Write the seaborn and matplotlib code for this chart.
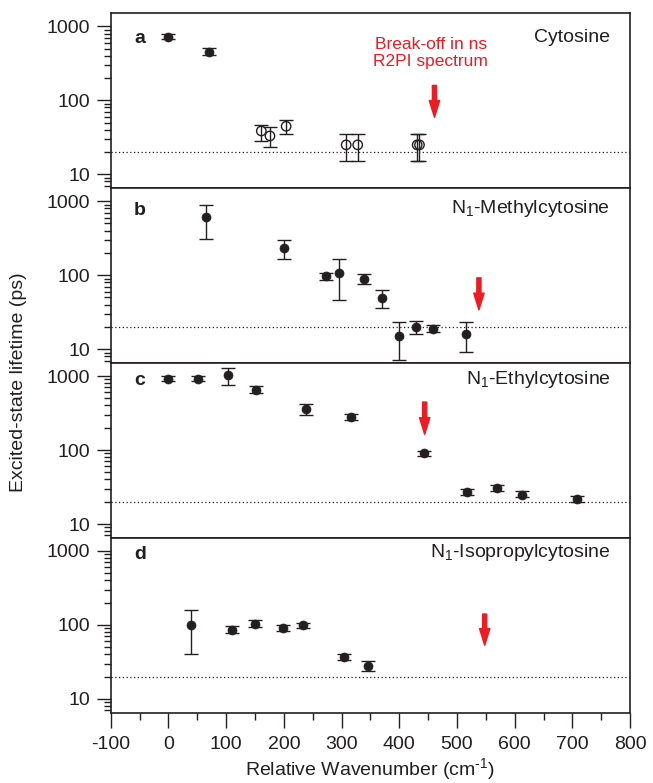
import matplotlib
matplotlib.use('Agg')
import matplotlib.pyplot as plt
import seaborn as sns
import pandas as pd
from matplotlib.ticker import LogLocator, MultipleLocator, NullFormatter, FixedLocator

# panel a: cytosine (open = measured in other experiment)
cyt_x = [0, 71, 161, 176, 204, 308, 328, 431, 435]
cyt_y = [727, 452, 38.5, 33, 44.6, 25, 25, 25, 25]
cyt_lo = [668, 407, 28, 23.3, 35, 15.2, 15.2, 15.2, 15.2]
cyt_hi = [790, 505, 47, 43.5, 55, 35, 35, 35, 35]
cyt_open = [False, False, True, True, True, True, True, True, True]

# panel b: N1-methylcytosine
met_x = [66, 200, 273, 296, 339, 370, 400, 429, 459, 515]
met_y = [602, 234, 96, 106, 90, 49, 15, 20, 19, 16]
met_lo = [313, 163, 86, 46, 76, 36, 7.2, 16.1, 17.1, 9.2]
met_hi = [891, 303, 107, 168, 104, 63, 23, 24, 21.2, 23]

# panel c: N1-ethylcytosine
eth_x = [0, 52, 104, 152, 238, 317, 443, 518, 570, 612, 708]
eth_y = [922, 922, 1030, 655, 355, 279, 90, 27, 31, 25, 22]
eth_lo = [850, 850, 756, 584, 295, 257, 83, 24.8, 28, 23.1, 20.1]
eth_hi = [990, 990, 1300, 733, 419, 304, 97, 29.5, 34, 27.6, 24]

# panel d: N1-isopropylcytosine
iso_x = [40, 110, 150, 198, 234, 305, 346]
iso_y = [100, 86, 103, 91, 100, 37, 28]
iso_lo = [41, 77, 93, 82, 91, 34, 24]
iso_hi = [160, 96, 116, 101, 106, 41, 32]

# break-off arrows (x position, tail, tip)
arrow_x = [461, 538, 444, 548]
arrow_tail = [159, 92, 445, 140]
arrow_tip = [59, 34, 163, 53]

names = ['Cytosine', r'N$_\mathregular{1}$-Methylcytosine',
         r'N$_\mathregular{1}$-Ethylcytosine', r'N$_\mathregular{1}$-Isopropylcytosine']
letters = ['a', 'b', 'c', 'd']
name_y = [0.862, 0.886, 0.905, 0.917]
letter_y = [0.857, 0.873, 0.90, 0.905]

sns.set_style('ticks')
plt.rcParams['font.family'] = ['Liberation Sans', 'DejaVu Sans']
plt.rcParams['mathtext.fontset'] = 'custom'
plt.rcParams['mathtext.rm'] = 'Liberation Sans'
plt.rcParams['mathtext.it'] = 'Liberation Sans:italic'
plt.rcParams['axes.unicode_minus'] = False

ink = '#231f20'
red = '#ed1c24'

panels = [
    pd.DataFrame({'x': cyt_x, 'y': cyt_y, 'lo': cyt_lo, 'hi': cyt_hi, 'open': cyt_open}),
    pd.DataFrame({'x': met_x, 'y': met_y, 'lo': met_lo, 'hi': met_hi, 'open': False}),
    pd.DataFrame({'x': eth_x, 'y': eth_y, 'lo': eth_lo, 'hi': eth_hi, 'open': False}),
    pd.DataFrame({'x': iso_x, 'y': iso_y, 'lo': iso_lo, 'hi': iso_hi, 'open': False}),
]

fig, axes = plt.subplots(4, 1, figsize=(6.53, 7.83), dpi=100, sharex=True)
fig.subplots_adjust(left=0.1695, right=0.965, top=0.983, bottom=0.0898, hspace=0)

for i, (ax, df) in enumerate(zip(axes, panels)):
    ax.set_yscale('log')
    err = [df['y'] - df['lo'], df['hi'] - df['y']]
    ax.errorbar(df['x'], df['y'], yerr=err, fmt='none', ecolor=ink,
                elinewidth=1, capsize=5, capthick=1, zorder=2)
    filled = df[~df['open']]
    hollow = df[df['open']]
    sns.scatterplot(data=filled, x='x', y='y', ax=ax, color=ink, s=42,
                    edgecolor=ink, linewidth=0.5, zorder=3, legend=False)
    if len(hollow):
        sns.scatterplot(data=hollow, x='x', y='y', ax=ax, facecolor='none',
                        edgecolor=ink, s=46, linewidth=1, zorder=3, legend=False)
    ax.axhline(20, color=ink, linestyle=(0, (1, 2)), linewidth=0.9, zorder=1)
    ax.annotate('', xy=(arrow_x[i], arrow_tip[i]), xytext=(arrow_x[i], arrow_tail[i]),
                arrowprops=dict(color=red, width=3, headwidth=7.5, headlength=12, shrink=0))

    ax.set_ylim(6.5, 1500)
    ax.set_xlim(-100, 800)
    ax.yaxis.set_major_locator(FixedLocator([10, 100, 1000]))
    ax.yaxis.set_minor_locator(LogLocator(base=10, subs=range(2, 10)))
    ax.yaxis.set_minor_formatter(NullFormatter())
    ax.set_yticklabels(['10', '100', '1000'])
    ax.tick_params(axis='y', which='major', length=10, width=1, pad=5, labelsize=14, colors=ink)
    ax.tick_params(axis='y', which='minor', length=5, width=1, colors=ink)
    ax.set_xlabel('')
    ax.set_ylabel('')
    for sp in ax.spines.values():
        sp.set_visible(True)
        sp.set_linewidth(1.2)
        sp.set_color(ink)

    ax.text(0.045, letter_y[i], letters[i], transform=ax.transAxes, fontsize=14,
            fontweight='bold', color=ink, ha='left', va='center')
    ax.text(0.962, name_y[i], names[i], transform=ax.transAxes, fontsize=14,
            color=ink, ha='right', va='center')

    if i < 3:
        ax.tick_params(axis='x', which='both', length=0, labelbottom=False)

axes[0].text(0.616, 0.772, 'Break-off in ns\nR2PI spectrum', transform=axes[0].transAxes,
             fontsize=12.5, color=red, ha='center', va='center', linespacing=1.15)

bottom = axes[3]
bottom.xaxis.set_major_locator(MultipleLocator(100))
bottom.xaxis.set_minor_locator(MultipleLocator(50))
bottom.tick_params(axis='x', which='major', length=11, width=1, pad=6, labelsize=14, colors=ink)
bottom.tick_params(axis='x', which='minor', length=5, width=1, colors=ink)
bottom.set_xlabel(r'Relative Wavenumber (cm$^{\text{-1}}$)', fontsize=14, color=ink, labelpad=2)

fig.text(0.029, 0.512, 'Excited-state lifetime (ps)', rotation=90, fontsize=14,
         color=ink, ha='center', va='center')

fig.savefig('out.png', dpi=100)
